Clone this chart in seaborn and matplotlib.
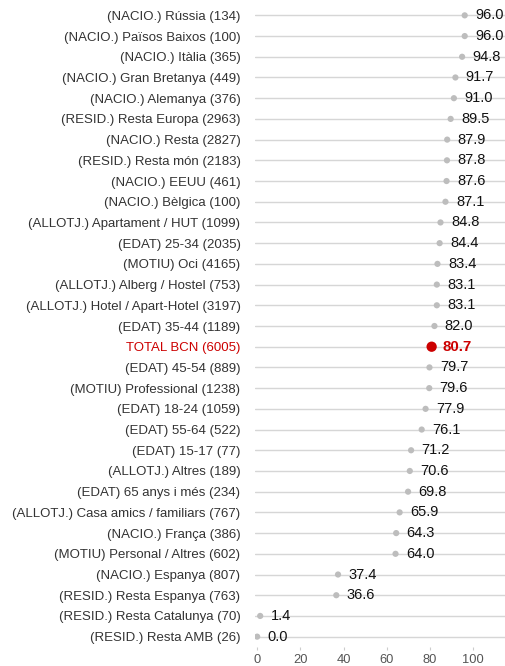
import matplotlib
matplotlib.use("Agg")
import matplotlib.pyplot as plt
import seaborn as sns
import pandas as pd

categories = [
    "(NACIO.) Rússia (134)", "(NACIO.) Països Baixos (100)", "(NACIO.) Itàlia (365)",
    "(NACIO.) Gran Bretanya (449)", "(NACIO.) Alemanya (376)", "(RESID.) Resta Europa (2963)",
    "(NACIO.) Resta (2827)", "(RESID.) Resta món (2183)", "(NACIO.) EEUU (461)",
    "(NACIO.) Bèlgica (100)", "(ALLOTJ.) Apartament / HUT (1099)", "(EDAT) 25-34 (2035)",
    "(MOTIU) Oci (4165)", "(ALLOTJ.) Alberg / Hostel (753)", "(ALLOTJ.) Hotel / Apart-Hotel (3197)",
    "(EDAT) 35-44 (1189)", "TOTAL BCN (6005)", "(EDAT) 45-54 (889)",
    "(MOTIU) Professional (1238)", "(EDAT) 18-24 (1059)", "(EDAT) 55-64 (522)",
    "(EDAT) 15-17 (77)", "(ALLOTJ.) Altres (189)", "(EDAT) 65 anys i més (234)",
    "(ALLOTJ.) Casa amics / familiars (767)", "(NACIO.) França (386)", "(MOTIU) Personal / Altres (602)",
    "(NACIO.) Espanya (807)", "(RESID.) Resta Espanya (763)", "(RESID.) Resta Catalunya (70)",
    "(RESID.) Resta AMB (26)",
]
values = [96.0, 96.0, 94.8, 91.7, 91.0, 89.5, 87.9, 87.8, 87.6, 87.1, 84.8, 84.4, 83.4,
          83.1, 83.1, 82.0, 80.7, 79.7, 79.6, 77.9, 76.1, 71.2, 70.6, 69.8, 65.9, 64.3,
          64.0, 37.4, 36.6, 1.4, 0.0]
total_label = "TOTAL BCN (6005)"
x_ticks = [0, 20, 40, 60, 80, 100]

df = pd.DataFrame({"cat": categories, "val": values})
df["pos"] = range(len(df))
df["is_total"] = df["cat"] == total_label

sns.set_theme(style="white")
plt.rcParams["font.family"] = ["Liberation Sans", "DejaVu Sans"]

RED = "#cc0000"
GRAY = "#bdbdbd"

fig = plt.figure(figsize=(5.06, 6.66), dpi=100)
ax = fig.add_axes([255 / 506, 1 - 647 / 666, 1 - 255 / 506, (647 - 5) / 666])

for i in range(len(categories)):
    ax.axhline(i, color="#d6d6d6", lw=1, zorder=0)

normal = df[~df["is_total"]]
total = df[df["is_total"]]
sns.scatterplot(data=normal, x="val", y="pos", ax=ax, color=GRAY, s=20,
                edgecolor="none", zorder=3, legend=False)
sns.scatterplot(data=total, x="val", y="pos", ax=ax, color=RED, s=55,
                edgecolor="none", zorder=4, legend=False)

ax.set_yticks(list(df["pos"]))
ax.set_yticklabels(categories)
for lbl in ax.get_yticklabels():
    if lbl.get_text() == total_label:
        lbl.set_color(RED)
    else:
        lbl.set_color("#333333")

for p, c, v in zip(df["pos"], categories, values):
    is_t = c == total_label
    ax.annotate(f"{v:.1f}", (v, p), xytext=(7.5, 0), textcoords="offset points",
                va="center", ha="left", fontsize=10.8 if is_t else 10.5,
                color=RED if is_t else "#111111",
                fontweight="bold" if is_t else "normal", zorder=5)

ax.set_xlim(-1, 115.1)
ax.set_ylim(len(categories) - 0.5, -0.5)
ax.set_xticks(x_ticks)
ax.set_xticklabels([str(t) for t in x_ticks])
ax.tick_params(axis="x", length=2, width=0.8, color="#cccccc", pad=3,
               labelsize=9.3, labelcolor="#555555", bottom=True)
ax.tick_params(axis="y", length=0, pad=10.5, labelsize=9.5)
ax.set_xlabel("")
ax.set_ylabel("")
for s in ax.spines.values():
    s.set_visible(False)

fig.savefig("out.png", dpi=100)
